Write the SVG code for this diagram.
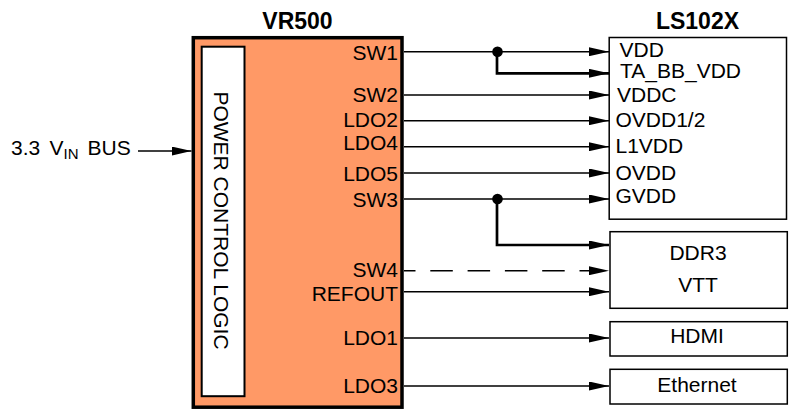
<svg xmlns="http://www.w3.org/2000/svg" width="793" height="412" viewBox="0 0 793 412">
<style>
text{font-family:"Liberation Sans",Arial,sans-serif;font-size:21px;fill:#000}
.title{font-weight:bold;font-size:23px;text-anchor:middle}
.pin{text-anchor:end}
.mid{text-anchor:middle}
.box{fill:#fff;stroke:#000;stroke-width:1.5}
.w{fill:none;stroke:#000;stroke-width:1.4}
.thick{fill:none;stroke:#000;stroke-width:2.7}
.dash{stroke-dasharray:22.5 14.8;stroke-dashoffset:11}
</style>
<defs>
<marker id="ah" viewBox="0 0 20 9" refX="20" refY="4.5" markerWidth="20" markerHeight="9" markerUnits="userSpaceOnUse" orient="auto">
<path d="M0,0 L20,4.5 L0,9 Z" fill="#000"/>
</marker>
</defs>
<rect width="793" height="412" fill="#fff"/>

<g id="vr500">
<rect x="193.3" y="37.7" width="208.7" height="369.5" fill="#FF9966" stroke="#000" stroke-width="3.5"/>
<text class="title" x="297.5" y="29">VR500</text>
<g id="power-control-logic">
<rect x="201.7" y="46.7" width="42.8" height="349.5" fill="#fff" stroke="#000" stroke-width="2"/>
<text class="mid" transform="translate(214,220.5) rotate(90)">POWER CONTROL LOGIC</text>
</g>
<text class="pin" x="398" y="59.5">SW1</text>
<text class="pin" x="398" y="101.5">SW2</text>
<text class="pin" x="398" y="126.5">LDO2</text>
<text class="pin" x="398" y="150">LDO4</text>
<text class="pin" x="398" y="180.5">LDO5</text>
<text class="pin" x="398" y="206.5">SW3</text>
<text class="pin" x="398" y="277">SW4</text>
<text class="pin" x="398" y="300.5">REFOUT</text>
<text class="pin" x="398" y="344.5">LDO1</text>
<text class="pin" x="398" y="393">LDO3</text>
</g>

<g id="vin-label">
<text x="11" y="155">3.3<tspan x="49.5">V</tspan><tspan x="63.5" dy="4" font-size="15">IN</tspan><tspan x="87.5" dy="-4">BUS</tspan></text>
</g>

<g id="ls102x">
<rect class="box" x="609.2" y="37.5" width="177.3" height="181.7"/>
<text class="title" x="697.5" y="29">LS102X</text>
<text x="619.5" y="56.5">VDD</text>
<text x="620" y="78">TA_BB_VDD</text>
<text x="617" y="101.5">VDDC</text>
<text x="615.5" y="126.5">OVDD1/2</text>
<text x="615.5" y="153">L1VDD</text>
<text x="615.5" y="179.5">OVDD</text>
<text x="615.5" y="203">GVDD</text>
</g>

<g id="ddr3">
<rect class="box" x="610" y="231.7" width="177.3" height="76.6"/>
<text class="mid" x="698" y="260">DDR3</text>
<text class="mid" x="698" y="291.7">VTT</text>
</g>

<g id="hdmi">
<rect class="box" x="610" y="321.7" width="177.3" height="34.3"/>
<text class="mid" x="697" y="342.7">HDMI</text>
</g>

<g id="ethernet">
<rect class="box" x="610" y="369.3" width="177.3" height="34.7"/>
<text class="mid" x="697" y="391.7">Ethernet</text>
</g>

<g id="connectors">
<line class="w" x1="138" y1="151" x2="191.5" y2="151" marker-end="url(#ah)"/>
<line class="w" x1="404" y1="51.7" x2="609" y2="51.7" marker-end="url(#ah)"/>
<polyline class="thick" points="497,51.7 497,73.3 609,73.3" marker-end="url(#ah)"/>
<circle cx="497.5" cy="51.7" r="5.3" fill="#000"/>
<line class="w" x1="404" y1="95" x2="609" y2="95" marker-end="url(#ah)"/>
<line class="w" x1="404" y1="120.7" x2="609" y2="120.7" marker-end="url(#ah)"/>
<line class="w" x1="404" y1="146.7" x2="609" y2="146.7" marker-end="url(#ah)"/>
<line class="w" x1="404" y1="173" x2="609" y2="173" marker-end="url(#ah)"/>
<line class="w" x1="404" y1="199" x2="609" y2="199" marker-end="url(#ah)"/>
<polyline class="thick" points="497,199 497,245 609,245" marker-end="url(#ah)"/>
<circle cx="497.5" cy="199" r="5.3" fill="#000"/>
<line class="w dash" x1="404" y1="270.7" x2="609" y2="270.7" marker-end="url(#ah)"/>
<line class="w" x1="404" y1="291.7" x2="609" y2="291.7" marker-end="url(#ah)"/>
<line class="w" x1="404" y1="338" x2="609" y2="338" marker-end="url(#ah)"/>
<line class="w" x1="404" y1="386" x2="609" y2="386" marker-end="url(#ah)"/>
</g>
</svg>
